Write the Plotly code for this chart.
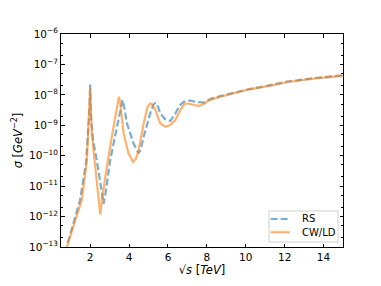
import plotly.graph_objects as go

# sqrt(s) in TeV and cross sections in GeV^-2
x_cw = [0.8, 1.2, 1.57, 1.83, 1.93, 2.0, 2.05, 2.09, 2.2, 2.31, 2.45, 2.52, 2.6, 2.86, 3.2, 3.4, 3.48,
        3.55, 3.72, 3.97, 4.2, 4.35, 4.49, 4.75, 4.95, 5.09, 5.2, 5.35, 5.6, 5.87, 6.1, 6.38, 6.64, 6.85,
        6.98, 7.15, 7.4, 7.58, 7.8, 8.1, 8.7, 10.08, 11.28, 12.14, 13.5, 15.0]
sigma_cw = [1.0e-13, 6.3e-13, 3.5e-12, 7.2e-11, 1.9e-9, 1.62e-8, 2.0e-9, 5.4e-10, 1.0e-10, 2.0e-11, 4.0e-12,
            1.17e-12, 3.2e-12, 4.4e-11, 8.9e-10, 5.0e-9, 8.7e-9, 5.0e-9, 5.4e-10, 1.2e-10, 6.3e-11, 7.9e-11,
            1.5e-10, 1.15e-9, 4.0e-9, 5.2e-9, 4.7e-9, 3.2e-9, 1.15e-9, 8.9e-10, 1.0e-9, 1.48e-9, 3.2e-9,
            5.0e-9, 5.2e-9, 5.0e-9, 4.5e-9, 4.3e-9, 4.8e-9, 6.6e-9, 8.7e-9, 1.45e-8, 2.0e-8, 2.6e-8, 3.4e-8,
            4.2e-8]

x_rs = [0.85, 1.2, 1.48, 1.79, 1.9, 1.97, 2.0, 2.04, 2.15, 2.34, 2.55, 2.69, 2.8, 3.03, 3.38, 3.55, 3.67,
        3.75, 3.89, 4.23, 4.49, 4.6, 4.75, 5.09, 5.25, 5.35, 5.45, 5.6, 5.85, 6.12, 6.38, 6.6, 6.81, 7.15,
        7.5, 7.84, 8.2, 8.7, 10.08, 11.28, 12.14, 13.5, 15.0]
sigma_rs = [1.35e-13, 7.9e-13, 3.5e-12, 5.8e-11, 5.0e-10, 4.0e-9, 2.2e-8, 1.9e-9, 3.2e-10, 7.2e-11, 1.0e-11,
            2.6e-12, 6.3e-12, 7.2e-11, 8.9e-10, 3.5e-9, 6.8e-9, 4.0e-9, 1.15e-9, 2.5e-10, 1.2e-10, 1.6e-10,
            4.2e-10, 2.45e-9, 4.8e-9, 5.4e-9, 4.8e-9, 2.45e-9, 1.6e-9, 1.38e-9, 2.45e-9, 4.5e-9, 5.9e-9,
            6.5e-9, 5.75e-9, 5.6e-9, 7.4e-9, 9.1e-9, 1.5e-8, 2.1e-8, 2.75e-8, 3.55e-8, 4.4e-8]

x_ticks = [2, 4, 6, 8, 10, 12, 14]
y_ticks = [1e-13, 1e-12, 1e-11, 1e-10, 1e-9, 1e-8, 1e-7, 1e-6]
y_tick_text = ["10<sup>−13</sup>", "10<sup>−12</sup>", "10<sup>−11</sup>", "10<sup>−10</sup>",
               "10<sup>−9</sup>", "10<sup>−8</sup>", "10<sup>−7</sup>", "10<sup>−6</sup>"]

series_names = ["RS", "CW/LD"]
series_colors = ["rgba(31,119,180,0.6)", "rgba(255,127,14,0.6)"]
series_dash = ["7px,3px", "solid"]

fig = go.Figure()
fig.add_trace(go.Scatter(x=x_rs, y=sigma_rs, mode="lines", name=series_names[0], showlegend=False,
                         line=dict(color=series_colors[0], width=2.2, dash=series_dash[0])))
fig.add_trace(go.Scatter(x=x_cw, y=sigma_cw, mode="lines", name=series_names[1], showlegend=False,
                         line=dict(color=series_colors[1], width=2.2, dash=series_dash[1])))

axis_common = dict(showgrid=False, zeroline=False, showline=True, linecolor="black", linewidth=1,
                   mirror="ticks", ticks="inside", tickcolor="black", ticklen=3.5, tickwidth=1,
                   automargin=False,
                   tickfont=dict(family="DejaVu Sans", size=10.5, color="black"))

fig.update_xaxes(range=[0.5, 15], tickvals=x_ticks,
                 title=dict(text="√<i>s</i> [<i>TeV</i>]", font=dict(family="DejaVu Sans", size=11.5, color="black"),
                            standoff=0),
                 **axis_common)
fig.update_yaxes(type="log", range=[-13, -6], tickvals=y_ticks, ticktext=y_tick_text,
                 minor=dict(ticks="inside", ticklen=2, tickcolor="black", tickwidth=0.6, showgrid=False),
                 title=dict(text="<i>σ</i> [<i>GeV</i><sup>−2</sup>]",
                            font=dict(family="DejaVu Sans", size=11.5, color="black"), standoff=4),
                 **axis_common)

# hand-made legend box (matplotlib style, lower right)
fig.add_shape(type="rect", xref="paper", yref="paper", x0=0.7376, x1=0.9823, y0=0.0235, y1=0.169,
              line=dict(color="#d0d0d0", width=1), fillcolor="rgba(255,255,255,0.8)", layer="above")
legend_y = [0.1315, 0.069]
for name, col, dsh, ly in zip(series_names, series_colors, series_dash, legend_y):
    fig.add_shape(type="line", xref="paper", yref="paper", x0=0.7433, x1=0.8110, y0=ly, y1=ly,
                  line=dict(color=col, width=2.2, dash=dsh), layer="above")
    fig.add_annotation(xref="paper", yref="paper", x=0.849, y=ly, text=name, showarrow=False,
                       xanchor="left", yanchor="middle",
                       font=dict(family="DejaVu Sans", size=10, color="black"))

fig.update_layout(width=381, height=286, margin=dict(l=61, r=38, t=34, b=39),
                  paper_bgcolor="white", plot_bgcolor="white",
                  font=dict(family="DejaVu Sans", size=10, color="black"), showlegend=False)

fig.write_html("out.html", config={"displayModeBar": False},
               post_script="document.body.style.margin='0';document.body.style.padding='0';"
                           "document.documentElement.style.overflow='hidden';")
